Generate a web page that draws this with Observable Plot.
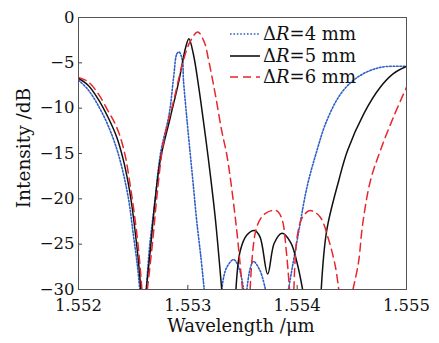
<!DOCTYPE html>
<html>
<head>
<meta charset="utf-8">
<script src="https://cdn.jsdelivr.net/npm/d3@7"></script>
<script src="https://cdn.jsdelivr.net/npm/@observablehq/plot@0.6"></script>
<style>
  html, body { margin: 0; padding: 0; background: #fff; }
</style>
</head>
<body>
<div id="chart"></div>
<script>
// Wavelength (µm) and intensity (dB); null breaks the line where it leaves the frame (below -30 dB)
const lam4 = [1.55200,1.55209,1.55218,1.55227,1.55235,1.55241,1.55246,1.55250,1.55254,1.55256,null,
              1.55262,1.55265,1.55270,1.55275,1.55283,1.55287,1.55290,1.55292,1.55295,1.55296,1.55299,1.55302,1.55305,1.55308,1.55312,1.55315,null,
              1.55331,1.55335,1.55342,1.55347,1.55351,null,
              1.55354,1.55357,1.55360,1.55366,1.55371,null,
              1.55392,1.55401,1.55409,1.55418,1.55427,1.55440,1.55455,1.55476,1.55500];
const db4  = [-6.9,-8.0,-9.7,-11.9,-14.5,-17.2,-20.2,-23.8,-27.5,-30,null,
              -30,-25.3,-20.2,-15,-10.6,-6.6,-4.0,-3.8,-4.7,-6.9,-11,-14.8,-18.5,-22.3,-26.5,-30,null,
              -30,-27.7,-26.7,-27.7,-30,null,
              -30,-27.7,-26.9,-27.9,-30,null,
              -30,-23.9,-18.7,-14.7,-11.4,-8.4,-6.6,-5.5,-5.4];

const lam5 = [1.55200,1.55209,1.55218,1.55227,1.55235,1.55241,1.55246,1.55249,1.55252,1.55255,1.55257,null,
              1.55262,1.55266,1.55270,1.55275,1.55284,1.55292,1.55298,1.55301,1.55305,1.55310,1.55315,1.55319,1.55325,1.55331,null,
              1.55344,1.55348,1.55354,1.55361,1.55366,1.55373,1.55379,1.55386,1.55394,1.55400,1.55405,null,
              1.55422,1.55427,1.55438,1.55446,1.55461,1.55476,1.55488,1.55500];
const db5  = [-6.7,-7.5,-9.0,-11.0,-13.2,-15.7,-18.6,-20.9,-23.8,-27.1,-30,null,
              -30,-25.3,-20.2,-15.6,-11,-6.9,-3.3,-2.35,-4.0,-7.7,-12.1,-15.8,-22,-30,null,
              -30,-25.7,-24.0,-23.5,-24.2,-28.3,-24.9,-23.8,-24.8,-27.1,-30,null,
              -30,-23.5,-18,-14.7,-10.6,-7.7,-6.2,-5.4];

const lam6 = [1.55200,1.55209,1.55218,1.55227,1.55233,1.55238,1.55243,1.55247,1.55251,1.55255,1.55258,null,
              1.55263,1.55268,1.55272,1.55278,1.55287,1.55296,1.55302,1.55309,1.55315,1.55319,1.55325,1.55331,1.55336,1.55344,1.55350,null,
              1.55357,1.55363,1.55371,1.55381,1.55386,1.55390,1.55393,null,
              1.55397,1.55400,1.55405,1.55412,1.55421,1.55429,1.55435,1.55438,null,
              1.55451,1.55456,1.55460,1.55467,1.55476,1.55488,1.55500];
const db6  = [-6.6,-7.1,-8.4,-10.3,-11.6,-13.1,-15.4,-18.3,-21.6,-25.7,-30,null,
              -30,-24.5,-19.4,-13.6,-9.2,-4.7,-2.7,-1.6,-2.7,-4.7,-8.4,-12.5,-15.4,-22.7,-30,null,
              -30,-23.1,-21.6,-21.3,-22.2,-25.7,-30,null,
              -30,-24.2,-22,-21.3,-22,-24.6,-27.5,-30,null,
              -30,-27.1,-22.7,-18,-14.7,-11,-7.7];

const seriesValues = ["4", "5", "6"];           // ΔR in mm
const seriesColors = ["#2f5fc4", "#111111", "#e8262d"];
const xTicks = [1.552, 1.553, 1.554, 1.555];
const yTicks = [0, -5, -10, -15, -20, -25, -30];

const toRows = (lam, db) => lam.map((l, i) => ({lam: l, db: db[i]}));
const rows4 = toRows(lam4, db4);
const rows5 = toRows(lam5, db5);
const rows6 = toRows(lam6, db6);

const font = "DejaVu Serif";
const W = 439, H = 343;
const dashes = ["1.6,1.8", null, "8,5"];

const chart = Plot.plot({
  width: W,
  height: H,
  marginLeft: 78,
  marginRight: 33,
  marginTop: 17,
  marginBottom: 54,
  style: {fontFamily: font, fontSize: "16.5px", color: "#111", background: "#fff"},
  x: {domain: [1.552, 1.555]},
  y: {domain: [-30, 0]},
  marks: [
    Plot.axisX(xTicks, {tickSize: 0, tickPadding: 10, tickFormat: d3.format(".3f"), label: null, fontSize: 16.5}),
    Plot.axisY(yTicks, {tickSize: 0, tickPadding: 4, tickFormat: d => d === 0 ? "0" : "−" + Math.abs(d), label: null, fontSize: 16.5}),
    Plot.ruleX(xTicks, {x: d => d, y1: -30, y2: -29.55, stroke: "#444", strokeWidth: 1}),
    Plot.ruleY(yTicks, {y: d => d, x1: 1.552, x2: 1.552037, stroke: "#444", strokeWidth: 1}),
    Plot.line(rows4, {x: "lam", y: "db", stroke: seriesColors[0], strokeWidth: 1.6, strokeDasharray: dashes[0], curve: "catmull-rom", clip: true}),
    Plot.line(rows5, {x: "lam", y: "db", stroke: seriesColors[1], strokeWidth: 1.5, curve: "catmull-rom", clip: true}),
    Plot.line(rows6, {x: "lam", y: "db", stroke: seriesColors[2], strokeWidth: 1.5, strokeDasharray: dashes[2], curve: "catmull-rom", clip: true}),
    Plot.frame({stroke: "#555", strokeWidth: 1})
  ]
});

document.getElementById("chart").appendChild(chart);

const svg = d3.select(chart);
svg.attr("font-family", font);
svg.selectAll("g").attr("font-family", font);
svg.selectAll("text").attr("font-family", font).style("font-family", font).attr("fill", "#111");

// legend
const legendY = [34, 56, 77];
seriesValues.forEach((v, i) => {
  const g = svg.append("g");
  g.append("line").attr("x1", 230).attr("x2", 260).attr("y1", legendY[i]).attr("y2", legendY[i])
    .attr("stroke", seriesColors[i]).attr("stroke-width", 1.6)
    .attr("stroke-dasharray", dashes[i]);
  const t = g.append("text").attr("x", 263).attr("y", legendY[i] + 6)
    .attr("text-anchor", "start")
    .attr("font-family", font).attr("font-size", 18).attr("fill", "#111");
  t.append("tspan").text("Δ");
  t.append("tspan").attr("font-style", "italic").text("R");
  t.append("tspan").text("=" + v + " mm");
});
// axis titles
svg.append("text").attr("transform", "translate(30,148) rotate(-90)")
  .attr("text-anchor", "middle").attr("font-family", font).attr("font-size", 18.5).attr("fill", "#111")
  .text("Intensity /dB");
svg.append("text").attr("x", 241).attr("y", 332)
  .attr("text-anchor", "middle").attr("font-family", font).attr("font-size", 18).attr("fill", "#111")
  .text("Wavelength /μm");
</script>
</body>
</html>
